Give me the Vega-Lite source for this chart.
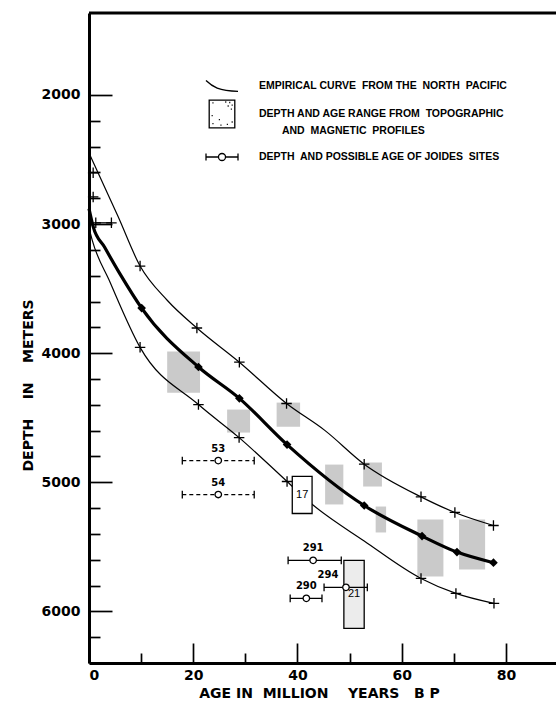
{
  "$schema": "https://vega.github.io/schema/vega-lite/v6.json",
  "width": 467,
  "height": 650,
  "autosize": {"type": "none"},
  "padding": {"left": 89, "top": 13, "right": 0, "bottom": 48},
  "background": "white",
  "config": {
    "view": {"stroke": null},
    "font": "Liberation Sans",
    "axis": {
      "grid": false,
      "domainColor": "black",
      "domainWidth": 3,
      "tickColor": "black",
      "tickWidth": 1.7,
      "labelColor": "black",
      "labelFont": "DejaVu Sans",
      "labelFontWeight": "bold",
      "labelFontSize": 14,
      "titleFont": "DejaVu Sans",
      "titleFontWeight": "bold",
      "titleFontSize": 14,
      "titleColor": "black"
    }
  },
  "datasets": {
    "patches": [
      {"age_min": 15.0, "age_max": 21.3, "depth_top": 3988, "depth_bottom": 4306},
      {"age_min": 26.5, "age_max": 30.9, "depth_top": 4437, "depth_bottom": 4615},
      {"age_min": 36.0, "age_max": 40.5, "depth_top": 4383, "depth_bottom": 4570},
      {"age_min": 45.3, "age_max": 48.8, "depth_top": 4863, "depth_bottom": 5172},
      {"age_min": 52.6, "age_max": 56.2, "depth_top": 4847, "depth_bottom": 5033},
      {"age_min": 55.0, "age_max": 57.0, "depth_top": 5188, "depth_bottom": 5389},
      {"age_min": 63.0, "age_max": 68.0, "depth_top": 5288, "depth_bottom": 5729},
      {"age_min": 71.0, "age_max": 76.0, "depth_top": 5288, "depth_bottom": 5675}
    ],
    "curves": [
      {"curve": "upper", "age": 0, "depth": 2450},
      {"curve": "upper", "age": 5.6, "depth": 2944},
      {"curve": "upper", "age": 9.8, "depth": 3325},
      {"curve": "upper", "age": 15, "depth": 3590},
      {"curve": "upper", "age": 20.7, "depth": 3805},
      {"curve": "upper", "age": 28.85, "depth": 4070},
      {"curve": "upper", "age": 37.9, "depth": 4390},
      {"curve": "upper", "age": 45.3, "depth": 4600},
      {"curve": "upper", "age": 52.8, "depth": 4860},
      {"curve": "upper", "age": 63.7, "depth": 5113},
      {"curve": "upper", "age": 70.2, "depth": 5234},
      {"curve": "upper", "age": 77.6, "depth": 5335},
      {"curve": "central", "age": 0, "depth": 2880},
      {"curve": "central", "age": 0.8, "depth": 3020},
      {"curve": "central", "age": 3, "depth": 3180},
      {"curve": "central", "age": 6, "depth": 3390},
      {"curve": "central", "age": 10.1, "depth": 3651},
      {"curve": "central", "age": 21.0, "depth": 4107},
      {"curve": "central", "age": 28.85, "depth": 4350},
      {"curve": "central", "age": 38.0, "depth": 4708},
      {"curve": "central", "age": 52.8, "depth": 5180},
      {"curve": "central", "age": 63.9, "depth": 5417},
      {"curve": "central", "age": 70.6, "depth": 5541},
      {"curve": "central", "age": 77.6, "depth": 5623},
      {"curve": "lower", "age": 0, "depth": 3030},
      {"curve": "lower", "age": 0.6, "depth": 3122},
      {"curve": "lower", "age": 4, "depth": 3447},
      {"curve": "lower", "age": 9.8, "depth": 3955},
      {"curve": "lower", "age": 21.0, "depth": 4398},
      {"curve": "lower", "age": 28.8, "depth": 4654},
      {"curve": "lower", "age": 38.0, "depth": 4994},
      {"curve": "lower", "age": 42.4, "depth": 5157},
      {"curve": "lower", "age": 52.8, "depth": 5455},
      {"curve": "lower", "age": 63.7, "depth": 5745},
      {"curve": "lower", "age": 70.4, "depth": 5861},
      {"curve": "lower", "age": 77.7, "depth": 5938}
    ],
    "markers": [
      {"curve": "upper", "age": 0.8, "depth": 2603},
      {"curve": "upper", "age": 9.8, "depth": 3325},
      {"curve": "upper", "age": 20.7, "depth": 3805},
      {"curve": "upper", "age": 28.85, "depth": 4070},
      {"curve": "upper", "age": 37.9, "depth": 4390},
      {"curve": "upper", "age": 52.8, "depth": 4860},
      {"curve": "upper", "age": 63.7, "depth": 5113},
      {"curve": "upper", "age": 70.2, "depth": 5234},
      {"curve": "upper", "age": 77.6, "depth": 5335},
      {"curve": "lower", "age": 0.8, "depth": 2790},
      {"curve": "lower", "age": 1.3, "depth": 2990},
      {"curve": "lower", "age": 4.3, "depth": 2990},
      {"curve": "lower", "age": 9.8, "depth": 3955},
      {"curve": "lower", "age": 21.0, "depth": 4398},
      {"curve": "lower", "age": 28.8, "depth": 4654},
      {"curve": "lower", "age": 38.0, "depth": 4994},
      {"curve": "lower", "age": 63.7, "depth": 5745},
      {"curve": "lower", "age": 70.4, "depth": 5861},
      {"curve": "lower", "age": 77.7, "depth": 5938},
      {"curve": "central", "age": 10.1, "depth": 3651},
      {"curve": "central", "age": 21.0, "depth": 4107},
      {"curve": "central", "age": 28.85, "depth": 4350},
      {"curve": "central", "age": 38.0, "depth": 4708},
      {"curve": "central", "age": 52.8, "depth": 5180},
      {"curve": "central", "age": 63.9, "depth": 5417},
      {"curve": "central", "age": 70.6, "depth": 5541},
      {"curve": "central", "age": 77.6, "depth": 5623}
    ],
    "ranges": [
      {"age_min": 1.3, "age_max": 4.3, "depth": 2990}
    ],
    "boxes": [
      {"box": "17", "age_min": 39.0, "age_max": 42.8, "depth_top": 4955, "depth_bottom": 5242},
      {"box": "21", "age_min": 48.9, "age_max": 52.8, "depth_top": 5605, "depth_bottom": 6132}
    ],
    "sites": [
      {"site": "53", "age": 24.8, "depth": 4832, "age_min": 17.9, "age_max": 31.7, "age_basis": "uncertain"},
      {"site": "54", "age": 24.8, "depth": 5095, "age_min": 17.9, "age_max": 31.7, "age_basis": "uncertain"},
      {"site": "291", "age": 43.0, "depth": 5605, "age_min": 38.2, "age_max": 48.4, "age_basis": "estimated"},
      {"site": "294", "age": 49.3, "depth": 5814, "age_min": 45.1, "age_max": 53.4, "age_basis": "estimated"},
      {"site": "290", "age": 41.7, "depth": 5899, "age_min": 38.6, "age_max": 44.7, "age_basis": "estimated"}
    ],
    "legend": [
      {"item": "EMPIRICAL CURVE\u00a0 FROM THE\u00a0 NORTH\u00a0 PACIFIC"},
      {"item": "DEPTH AND AGE RANGE FROM\u00a0 TOPOGRAPHIC|\u200b\u00a0\u00a0\u00a0\u00a0\u00a0\u00a0\u00a0 AND\u00a0 MAGNETIC\u00a0 PROFILES"},
      {"item": "DEPTH\u00a0 AND POSSIBLE AGE OF JOIDES\u00a0 SITES"}
    ]
  },
  "layer": [
    {
      "data": {"name": "patches"},
      "mark": {"type": "rect", "fill": "#8a8a8a", "opacity": 0.45},
      "encoding": {
        "x": {
          "field": "age_min", "type": "quantitative",
          "scale": {"domain": [0, 89.6], "nice": false, "zero": false},
          "axis": {
            "orient": "bottom",
            "values": [0, 20, 40, 60, 80],
            "tickSize": -20,
            "labelPadding": 25,
            "title": "AGE IN\u00a0 MILLION\u00a0\u00a0\u00a0 YEARS\u00a0\u00a0 B P",
            "titleX": 230,
            "titleY": 30,
            "titleBaseline": "middle"
          }
        },
        "x2": {"field": "age_max"},
        "y": {
          "field": "depth_top", "type": "quantitative",
          "scale": {"domain": [1365, 6400], "reverse": true, "nice": false, "zero": false},
          "axis": {
            "orient": "left",
            "values": [2000, 3000, 4000, 5000, 6000],
            "tickSize": -23,
            "format": "d",
            "labelPadding": 32,
            "title": "DEPTH\u00a0\u00a0\u00a0 IN\u00a0\u00a0\u00a0 METERS",
            "titleX": -61,
            "titleY": 372,
            "titleBaseline": "middle"
          }
        },
        "y2": {"field": "depth_bottom"}
      }
    },
    {
      "data": {"values": [{"frame": "top"}]},
      "mark": {"type": "rule", "color": "black", "strokeWidth": 3},
      "encoding": {"y": {"datum": 1365, "type": "quantitative", "axis": null}}
    },
    {
      "data": {"name": "curves"},
      "transform": [{"filter": "datum.curve !== 'central'"}],
      "mark": {"type": "line", "color": "black", "strokeWidth": 1.2, "interpolate": "monotone"},
      "encoding": {
        "x": {
          "field": "age", "type": "quantitative",
          "axis": {"orient": "bottom", "values": [10, 30, 50, 70], "tickSize": -10, "labels": false, "domain": false, "title": null}
        },
        "y": {
          "field": "depth", "type": "quantitative",
          "axis": {"orient": "left", "values": [2200, 2400, 2600, 2800, 3200, 3400, 3600, 3800, 4200, 4400, 4600, 4800, 5200, 5400, 5600, 5800, 6200], "tickSize": -11, "labels": false, "domain": false, "title": null}
        },
        "detail": {"field": "curve"}
      }
    },
    {
      "data": {"name": "curves"},
      "transform": [{"filter": "datum.curve === 'central'"}],
      "mark": {"type": "line", "color": "black", "strokeWidth": 3.2, "interpolate": "monotone"},
      "encoding": {
        "x": {"field": "age", "type": "quantitative", "axis": null},
        "y": {"field": "depth", "type": "quantitative", "axis": null}
      }
    },
    {
      "data": {"name": "ranges"},
      "mark": {"type": "rule", "color": "black", "strokeWidth": 1.2},
      "encoding": {
        "x": {"field": "age_min", "type": "quantitative", "axis": null},
        "x2": {"field": "age_max"},
        "y": {"field": "depth", "type": "quantitative", "axis": null}
      }
    },
    {
      "data": {"name": "markers"},
      "transform": [{"filter": "datum.curve !== 'central'"}],
      "mark": {"type": "point", "shape": "M-1,0H1M0,-1V1", "filled": false, "color": "black", "strokeWidth": 1.3, "size": 110, "opacity": 1},
      "encoding": {
        "x": {"field": "age", "type": "quantitative", "axis": null},
        "y": {"field": "depth", "type": "quantitative", "axis": null}
      }
    },
    {
      "data": {"name": "markers"},
      "transform": [{"filter": "datum.curve === 'central'"}],
      "mark": {"type": "point", "shape": "diamond", "filled": true, "color": "black", "size": 75, "opacity": 1},
      "encoding": {
        "x": {"field": "age", "type": "quantitative", "axis": null},
        "y": {"field": "depth", "type": "quantitative", "axis": null}
      }
    },
    {
      "data": {"name": "boxes"},
      "mark": {"type": "rect", "stroke": "black", "strokeWidth": 1.3},
      "encoding": {
        "x": {"field": "age_min", "type": "quantitative", "axis": null},
        "x2": {"field": "age_max"},
        "y": {"field": "depth_top", "type": "quantitative", "axis": null},
        "y2": {"field": "depth_bottom"},
        "fill": {"condition": {"test": "datum.box === '21'", "value": "#ececec"}, "value": "white"}
      }
    },
    {
      "data": {"name": "boxes"},
      "transform": [{"calculate": "(datum.age_min + datum.age_max) / 2", "as": "age_mid"}, {"calculate": "(datum.depth_top + datum.depth_bottom) / 2", "as": "depth_mid"}],
      "mark": {"type": "text", "font": "Liberation Sans", "fontSize": 11, "color": "black", "baseline": "middle"},
      "encoding": {
        "x": {"field": "age_mid", "type": "quantitative", "axis": null},
        "y": {"field": "depth_mid", "type": "quantitative", "axis": null},
        "text": {"field": "box"}
      }
    },
    {
      "data": {"name": "sites"},
      "mark": {"type": "rule", "color": "black", "strokeWidth": 1.3},
      "encoding": {
        "x": {"field": "age_min", "type": "quantitative", "axis": null},
        "x2": {"field": "age_max"},
        "y": {"field": "depth", "type": "quantitative", "axis": null},
        "strokeDash": {"field": "age_basis", "type": "nominal", "scale": {"domain": ["uncertain", "estimated"], "range": [[4, 3], [1, 0]]}, "legend": null}
      }
    },
    {
      "data": {"name": "sites"},
      "mark": {"type": "point", "shape": "M0,-1V1", "filled": false, "color": "black", "strokeWidth": 1.3, "size": 60, "opacity": 1},
      "encoding": {
        "x": {"field": "age_min", "type": "quantitative", "axis": null},
        "y": {"field": "depth", "type": "quantitative", "axis": null}
      }
    },
    {
      "data": {"name": "sites"},
      "mark": {"type": "point", "shape": "M0,-1V1", "filled": false, "color": "black", "strokeWidth": 1.3, "size": 60, "opacity": 1},
      "encoding": {
        "x": {"field": "age_max", "type": "quantitative", "axis": null},
        "y": {"field": "depth", "type": "quantitative", "axis": null}
      }
    },
    {
      "data": {"name": "sites"},
      "mark": {"type": "point", "shape": "circle", "filled": true, "fill": "white", "stroke": "black", "strokeWidth": 1.3, "size": 42, "opacity": 1},
      "encoding": {
        "x": {"field": "age", "type": "quantitative", "axis": null},
        "y": {"field": "depth", "type": "quantitative", "axis": null}
      }
    },
    {
      "data": {"name": "sites"},
      "transform": [{"filter": "datum.site !== '294'"}],
      "mark": {"type": "text", "font": "DejaVu Sans", "fontWeight": "bold", "fontSize": 10, "color": "black", "baseline": "middle", "dy": -12},
      "encoding": {
        "x": {"field": "age", "type": "quantitative", "axis": null},
        "y": {"field": "depth", "type": "quantitative", "axis": null},
        "text": {"field": "site"}
      }
    },
    {
      "data": {"name": "sites"},
      "transform": [{"filter": "datum.site === '294'"}],
      "mark": {"type": "text", "font": "DejaVu Sans", "fontWeight": "bold", "fontSize": 10, "color": "black", "baseline": "middle", "dx": -18, "dy": -12},
      "encoding": {
        "x": {"field": "age", "type": "quantitative", "axis": null},
        "y": {"field": "depth", "type": "quantitative", "axis": null},
        "text": {"field": "site"}
      }
    },
    {
      "data": {"name": "legend"},
      "mark": {"type": "point", "filled": false, "color": "black", "opacity": 0, "size": 1024},
      "encoding": {
        "shape": {
          "field": "item", "type": "nominal",
          "scale": {
            "domain": [
              "EMPIRICAL CURVE\u00a0 FROM THE\u00a0 NORTH\u00a0 PACIFIC",
              "DEPTH AND AGE RANGE FROM\u00a0 TOPOGRAPHIC|\u200b\u00a0\u00a0\u00a0\u00a0\u00a0\u00a0\u00a0 AND\u00a0 MAGNETIC\u00a0 PROFILES",
              "DEPTH\u00a0 AND POSSIBLE AGE OF JOIDES\u00a0 SITES"
            ],
            "range": [
              "M-1,-0.34C-0.6,0.05 -0.2,0.3 1,0.33",
              "M-0.8,-0.87H0.8V0.87H-0.8Z M0.2,-0.75h0.07M0.45,-0.72h0.07M0.6,-0.55h0.07M0.35,-0.5h0.07M0.55,-0.3h0.07M-0.6,-0.7h0.07M-0.65,0.1h0.07M-0.2,0.35h0.07M-0.6,0.6h0.07M0.3,0.65h0.07M-0.1,0.7h0.07M0.6,0.5h0.07",
              "M-1,-0.22V0.22M-1,0H-0.22M0.22,0H1M1,-0.22V0.22M-0.22,0A0.22,0.22 0 1,1 0.22,0A0.22,0.22 0 1,1 -0.22,0"
            ]
          },
          "legend": {
            "orient": "none",
            "legendX": 116,
            "legendY": 56,
            "title": null,
            "padding": 0,
            "symbolSize": 1024,
            "symbolStrokeColor": "black",
            "symbolFillColor": "transparent",
            "symbolStrokeWidth": 1.3,
            "symbolOpacity": 1,
            "labelFont": "Liberation Sans",
            "labelFontSize": 10.5,
            "labelFontWeight": "bold",
            "labelColor": "black",
            "labelOffset": 20,
            "labelLimit": 400,
            "rowPadding": 3,
            "labelExpr": "split(datum.label, '|')",
            "encoding": {"labels": {"lineHeight": {"value": 17}}}
          }
        }
      }
    }
  ],
  "resolve": {"axis": {"x": "independent", "y": "independent"}}
}
